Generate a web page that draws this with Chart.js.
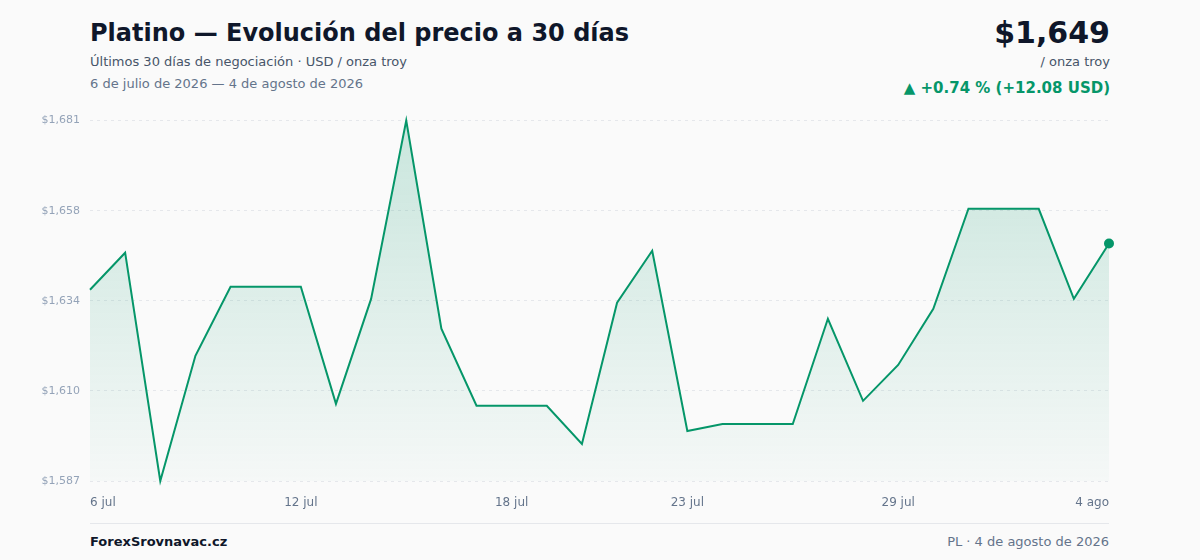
<!DOCTYPE html>
<html lang="es">
<head>
<meta charset="utf-8">
<title>Platino — Evolución del precio a 30 días</title>
<script src="https://cdn.jsdelivr.net/npm/chart.js@4.4.1/dist/chart.umd.min.js"></script>
<style>
  html, body { margin: 0; padding: 0; }
  body {
    width: 1200px; height: 560px; overflow: hidden;
    background: #fafafa;
    font-family: "DejaVu Sans", sans-serif;
    position: relative;
  }
  .title { position: absolute; left: 90px; top: 19px; font-size: 24px; font-weight: bold; color: #0f172a; }
  .sub { position: absolute; left: 90px; top: 54px; font-size: 13px; color: #475569; }
  .range { position: absolute; left: 90px; top: 76px; font-size: 13px; color: #64748b; }
  .price { position: absolute; right: 90px; top: 15px; font-size: 30px; font-weight: bold; color: #0f172a; }
  .unit { position: absolute; right: 90px; top: 54px; font-size: 13px; color: #475569; }
  .chg { position: absolute; right: 90px; top: 79px; font-size: 15px; font-weight: bold; color: #059669; }
  .chart { position: absolute; left: 0; top: 104px; width: 1124px; height: 406px; }
  .rule { position: absolute; left: 90px; top: 523px; width: 1019px; height: 1px; background: #e5e7eb; }
  .brand { position: absolute; left: 90px; top: 534px; font-size: 13px; font-weight: bold; color: #0f172a; }
  .stamp { position: absolute; right: 91px; top: 534px; font-size: 13px; color: #64748b; }
</style>
</head>
<body>
<div class="title">Platino — Evolución del precio a 30 días</div>
<div class="sub">Últimos 30 días de negociación · USD / onza troy</div>
<div class="range">6 de julio de 2026 — 4 de agosto de 2026</div>
<div class="price">$1,649</div>
<div class="unit">/ onza troy</div>
<div class="chg">▲ +0.74 % (+12.08 USD)</div>
<div class="chart"><canvas id="c"></canvas></div>
<div class="rule"></div>
<div class="brand">ForexSrovnavac.cz</div>
<div class="stamp">PL · 4 de agosto de 2026</div>
<script>
// days shown on the x axis (6 jul -> 4 ago)
var days = [
  "6 jul", "7 jul", "8 jul", "9 jul", "10 jul", "11 jul", "12 jul", "13 jul", "14 jul", "15 jul",
  "16 jul", "17 jul", "18 jul", "19 jul", "20 jul", "21 jul", "22 jul", "23 jul", "24 jul", "25 jul",
  "26 jul", "27 jul", "28 jul", "29 jul", "30 jul", "31 jul", "1 ago", "2 ago", "3 ago", "4 ago"
];
// closing price, USD / onza troy
var prices = [
  1636.9, 1646.6, 1586.8, 1619.6, 1637.7, 1637.7, 1637.7, 1607.0, 1634.5, 1681.2,
  1626.7, 1606.5, 1606.5, 1606.5, 1596.5, 1633.5, 1647.1, 1599.9, 1601.7, 1601.7,
  1601.7, 1629.3, 1607.8, 1617.2, 1631.9, 1658.1, 1658.1, 1658.1, 1634.5, 1649.0
];
// which day labels get printed
var shownDays = [ "6 jul", "12 jul", "18 jul", "23 jul", "29 jul", "4 ago" ];
var yMin = 1586.8, yMax = 1681.2;

var green = "#059669";
var lastIdx = prices.length - 1;

new Chart( document.getElementById( "c" ), {
  type: "line",
  data: {
    labels: days,
    datasets: [ {
      data: prices,
      borderColor: green,
      borderWidth: 2,
      tension: 0,
      fill: "start",
      backgroundColor: function( ctx ) {
        var area = ctx.chart.chartArea;
        if ( !area ) return "rgba(5,150,105,0.1)";
        var g = ctx.chart.ctx.createLinearGradient( 0, area.top, 0, area.bottom );
        g.addColorStop( 0, "rgba(5,150,105,0.20)" );
        g.addColorStop( 1, "rgba(5,150,105,0.02)" );
        return g;
      },
      pointRadius: function( ctx ) { return ctx.dataIndex === lastIdx ? 5 : 0; },
      pointBackgroundColor: green,
      pointBorderWidth: 0,
      clip: false
    } ]
  },
  options: {
    responsive: true,
    maintainAspectRatio: false,
    animation: false,
    layout: { padding: 0 },
    plugins: { legend: { display: false }, tooltip: { enabled: false } },
    scales: {
      x: {
        grid: { display: false, drawTicks: false },
        border: { display: false },
        afterFit: function( s ) { s.height = 29; },
        ticks: {
          autoSkip: false,
          maxRotation: 0,
          align: "inner",
          padding: 15,
          color: "#64748b",
          font: { family: "DejaVu Sans", size: 12 },
          callback: function( v, i ) {
            var d = days[ i ];
            return shownDays.indexOf( d ) >= 0 ? d : "";
          }
        }
      },
      y: {
        min: yMin,
        max: yMax,
        afterFit: function( s ) { s.width = 90; },
        afterBuildTicks: function( s ) {
          var t = [];
          for ( var k = 0; k <= 4; k++ ) t.push( { value: yMin + ( yMax - yMin ) * k / 4 } );
          s.ticks = t;
        },
        grid: { color: "#e5e7eb", lineWidth: 1, drawTicks: false },
        border: { display: false, dash: [ 3, 4 ] },
        ticks: {
          padding: 10,
          color: "#94a3b8",
          font: { family: "DejaVu Sans", size: 11 },
          callback: function( v ) { return "$" + Math.round( v ).toLocaleString( "en-US" ); }
        }
      }
    }
  }
} );
</script>
</body>
</html>
